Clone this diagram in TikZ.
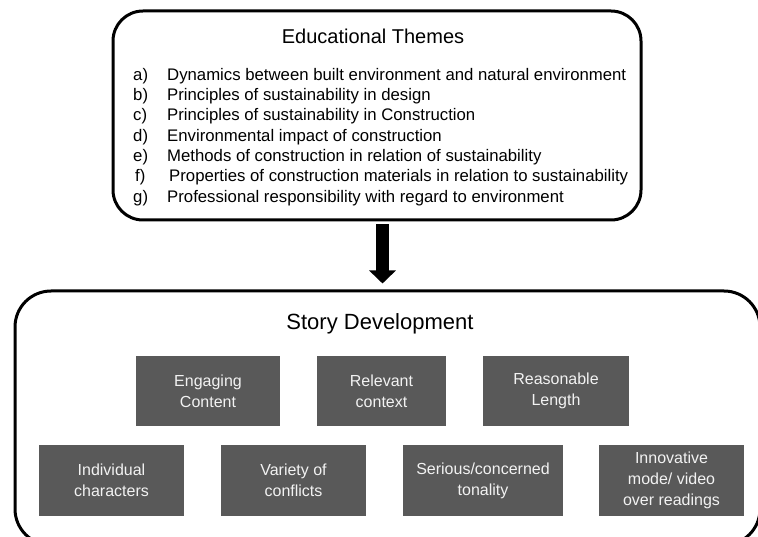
\documentclass[tikz,border=0pt]{standalone}
\usepackage{fontspec}
\setmainfont{Liberation Sans}
\usetikzlibrary{arrows.meta}
\definecolor{boxgray}{HTML}{595959}
\definecolor{boxtext}{HTML}{F2F2F2}
\begin{document}
\begin{tikzpicture}[x=1pt,y=-1pt,
  frame/.style={draw=black, line width=3pt, inner sep=0pt},
  heading/.style={inner sep=0pt, font=\fontsize{20}{24}\selectfont},
  bigheading/.style={inner sep=0pt, font=\fontsize{22}{26}\selectfont},
  item/.style={inner sep=0pt, anchor=west, text height=12pt, text depth=3.5pt, font=\fontsize{16.75}{20}\selectfont},
  dbox/.style={fill=boxgray, text=boxtext, align=center, inner sep=0pt, minimum height=70pt, font=\fontsize{16}{21}\selectfont},
  bigarrow/.style={line width=13pt, -{Triangle[length=13pt 0 0, width=26pt 0 0]}}
]
\useasboundingbox (0,0) rectangle (758,537);
\clip (0,0) rectangle (758,537);
% top frame
\node[frame, minimum width=528pt, minimum height=209pt, rounded corners=30pt] (themes) at (377,115.5) {};
\node[heading] (ttitle) at (373,36) {Educational Themes};
\node[item] (la) at (133,76) {a)};
\node[item] (ia) at (167,76) {Dynamics between built environment and natural environment};
\node[item] (lb) at (133,96.3) {b)};
\node[item] (ib) at (167,96.3) {Principles of sustainability in design};
\node[item] (lc) at (133,116.6) {c)};
\node[item] (ic) at (167,116.6) {Principles of sustainability in Construction};
\node[item] (ld) at (133,136.9) {d)};
\node[item] (id) at (167,136.9) {Environmental impact of construction};
\node[item] (le) at (133,157.2) {e)};
\node[item] (ie) at (167,157.2) {Methods of construction in relation of sustainability};
\node[item] (lf) at (135,177.5) {f)};
\node[item] (if) at (169,177.5) {Properties of construction materials in relation to sustainability};
\node[item] (lg) at (133,197.8) {g)};
\node[item] (ig) at (167,197.8) {Professional responsibility with regard to environment};
% bottom frame
\node[frame, minimum width=745pt, minimum height=254pt, rounded corners=36pt] (story) at (387.5,418) {};
\node[bigheading] (stitle) at (380,324) {Story Development};
\node[dbox, minimum width=144pt] (engaging) at (208,391) {Engaging\\Content};
\node[dbox, minimum width=129pt] (relevant) at (381.5,391) {Relevant\\context};
\node[dbox, minimum width=146pt] (reasonable) at (556,391) {Reasonable\\Length};
\node[dbox, minimum width=145pt, minimum height=71pt] (individual) at (111.5,480.5) {Individual\\characters};
\node[dbox, minimum width=145pt, minimum height=71pt] (variety) at (293.5,480.5) {Variety of\\conflicts};
\node[dbox, minimum width=160pt, minimum height=71pt] (serious) at (483,480.5) {Serious/concerned\\tonality};
\node[dbox, minimum width=145pt, minimum height=71pt] (innovative) at (671.5,480.5) {Innovative\\mode/ video\\over readings};
% arrow
\coordinate (ax) at (382.5,250);
\draw[bigarrow] ([yshift=-3pt]themes.south -| ax) -- ([yshift=6pt]story.north -| ax);
\end{tikzpicture}
\end{document}
